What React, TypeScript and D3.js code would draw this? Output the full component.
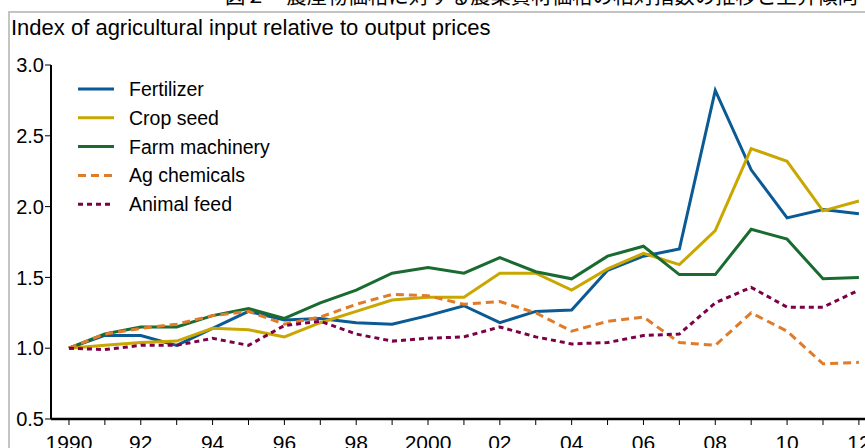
import React, { useEffect, useRef } from 'react';
import * as d3 from 'd3';

const years = d3.range(1990, 2013);

const fertilizer = [1.0, 1.09, 1.09, 1.02, 1.14, 1.26, 1.2, 1.21, 1.18, 1.17, 1.23, 1.3, 1.18, 1.26, 1.27, 1.55, 1.65, 1.7, 2.82, 2.26, 1.92, 1.98, 1.95];
const cropSeed = [1.0, 1.02, 1.04, 1.05, 1.14, 1.13, 1.08, 1.18, 1.26, 1.34, 1.36, 1.36, 1.53, 1.53, 1.41, 1.56, 1.67, 1.59, 1.83, 2.41, 2.32, 1.97, 2.04];
const farmMachinery = [1.0, 1.1, 1.15, 1.15, 1.23, 1.28, 1.21, 1.32, 1.41, 1.53, 1.57, 1.53, 1.64, 1.54, 1.49, 1.65, 1.72, 1.52, 1.52, 1.84, 1.77, 1.49, 1.5];
const agChemicals = [1.0, 1.1, 1.14, 1.17, 1.23, 1.26, 1.17, 1.22, 1.31, 1.38, 1.37, 1.31, 1.33, 1.25, 1.12, 1.19, 1.22, 1.04, 1.02, 1.25, 1.12, 0.89, 0.9];
const animalFeed = [1.0, 0.99, 1.02, 1.02, 1.07, 1.02, 1.16, 1.19, 1.1, 1.05, 1.07, 1.08, 1.15, 1.08, 1.03, 1.04, 1.09, 1.1, 1.32, 1.43, 1.29, 1.29, 1.41];

const seriesNames = ['Fertilizer', 'Crop seed', 'Farm machinery', 'Ag chemicals', 'Animal feed'];
const seriesColors = ['#0a5a95', '#c9a700', '#196b30', '#e07b2a', '#7b0047'];
const seriesDash = ['none', 'none', 'none', '8,5', '5,4'];
const seriesValues = [fertilizer, cropSeed, farmMachinery, agChemicals, animalFeed];

const yTicks = [0.5, 1.0, 1.5, 2.0, 2.5, 3.0];
const xTickLabels = ['1990', '92', '94', '96', '98', '2000', '02', '04', '06', '08', '10', '12'];

const titleText = 'Index of agricultural input relative to output prices';
const topText = '図２　農産物価格に対する農業資材価格の相対指数の推移と上昇傾向';

const width = 865;
const height = 448;
const font = '"Liberation Sans", Arial, Helvetica, sans-serif';

const App = () => {
  const svgRef = useRef(null);

  useEffect(() => {
    const svg = d3.select(svgRef.current);
    svg.selectAll('*').remove();

    // Scales: 1990 sits a half-year right of the y axis
    const x = d3.scaleLinear().domain([1989.5, 2012.17]).range([51, 865]);
    const y = d3.scaleLinear().domain([0.5, 3.0]).range([419, 65]);

    // Heading cut off at the very top (only its lower edge shows)
    svg.append('text')
      .attr('x', 225)
      .attr('y', 3)
      .attr('textLength', 633)
      .attr('lengthAdjust', 'spacingAndGlyphs')
      .style('font-family', '"Noto Sans CJK JP", sans-serif')
      .style('font-size', '21px')
      .style('fill', '#000')
      .text(topText);

    // Gray frame
    svg.append('rect')
      .attr('x', 9)
      .attr('y', 12)
      .attr('width', 900)
      .attr('height', 500)
      .attr('fill', 'none')
      .attr('stroke', '#c4c4c4')
      .attr('stroke-width', 2);

    svg.append('text')
      .attr('x', 11)
      .attr('y', 35)
      .style('font-family', font)
      .style('font-size', '22px')
      .text(titleText);

    // Y axis
    svg.append('line')
      .attr('x1', 51).attr('x2', 51)
      .attr('y1', y(3.0)).attr('y2', y(0.5))
      .attr('stroke', '#000')
      .attr('stroke-width', 2);

    yTicks.forEach(t => {
      svg.append('line')
        .attr('x1', 45).attr('x2', 51)
        .attr('y1', y(t)).attr('y2', y(t))
        .attr('stroke', '#000')
        .attr('stroke-width', 1);
      svg.append('text')
        .attr('x', 44)
        .attr('y', y(t))
        .attr('dy', '0.36em')
        .attr('text-anchor', 'end')
        .style('font-family', font)
        .style('font-size', '20px')
        .text(t.toFixed(1));
    });

    // X axis
    svg.append('line')
      .attr('x1', 51).attr('x2', width)
      .attr('y1', y(0.5)).attr('y2', y(0.5))
      .attr('stroke', '#000')
      .attr('stroke-width', 2.5);

    years.forEach(yr => {
      svg.append('line')
        .attr('x1', x(yr)).attr('x2', x(yr))
        .attr('y1', y(0.5)).attr('y2', y(0.5) + 6)
        .attr('stroke', '#000')
        .attr('stroke-width', 1);
    });

    xTickLabels.forEach((lab, i) => {
      svg.append('text')
        .attr('x', x(1990 + i * 2))
        .attr('y', 450)
        .attr('text-anchor', 'middle')
        .style('font-family', font)
        .style('font-size', '21px')
        .text(lab);
    });

    // Lines
    const line = d3.line()
      .x((d, i) => x(years[i]))
      .y(d => y(d));

    seriesValues.forEach((vals, k) => {
      svg.append('path')
        .datum(vals)
        .attr('fill', 'none')
        .attr('stroke', seriesColors[k])
        .attr('stroke-width', 3)
        .attr('stroke-dasharray', seriesDash[k])
        .attr('stroke-linejoin', 'miter')
        .attr('d', line);
    });

    // Legend
    const legend = svg.append('g').attr('transform', 'translate(78, 89)');
    seriesNames.forEach((name, i) => {
      const row = legend.append('g').attr('transform', `translate(0, ${i * 28.8})`);
      row.append('line')
        .attr('x1', 0).attr('x2', 36)
        .attr('y1', 0).attr('y2', 0)
        .attr('stroke', seriesColors[i])
        .attr('stroke-width', 3)
        .attr('stroke-dasharray', seriesDash[i]);
      row.append('text')
        .attr('x', 51)
        .attr('y', 0)
        .attr('dy', '0.36em')
        .style('font-family', font)
        .style('font-size', '19.5px')
        .text(name);
    });
  }, []);

  return (
    <svg
      ref={svgRef}
      width={width}
      height={height}
      style={{ position: 'absolute', left: 0, top: 0, background: '#fff' }}
    />
  );
};

export default App;
